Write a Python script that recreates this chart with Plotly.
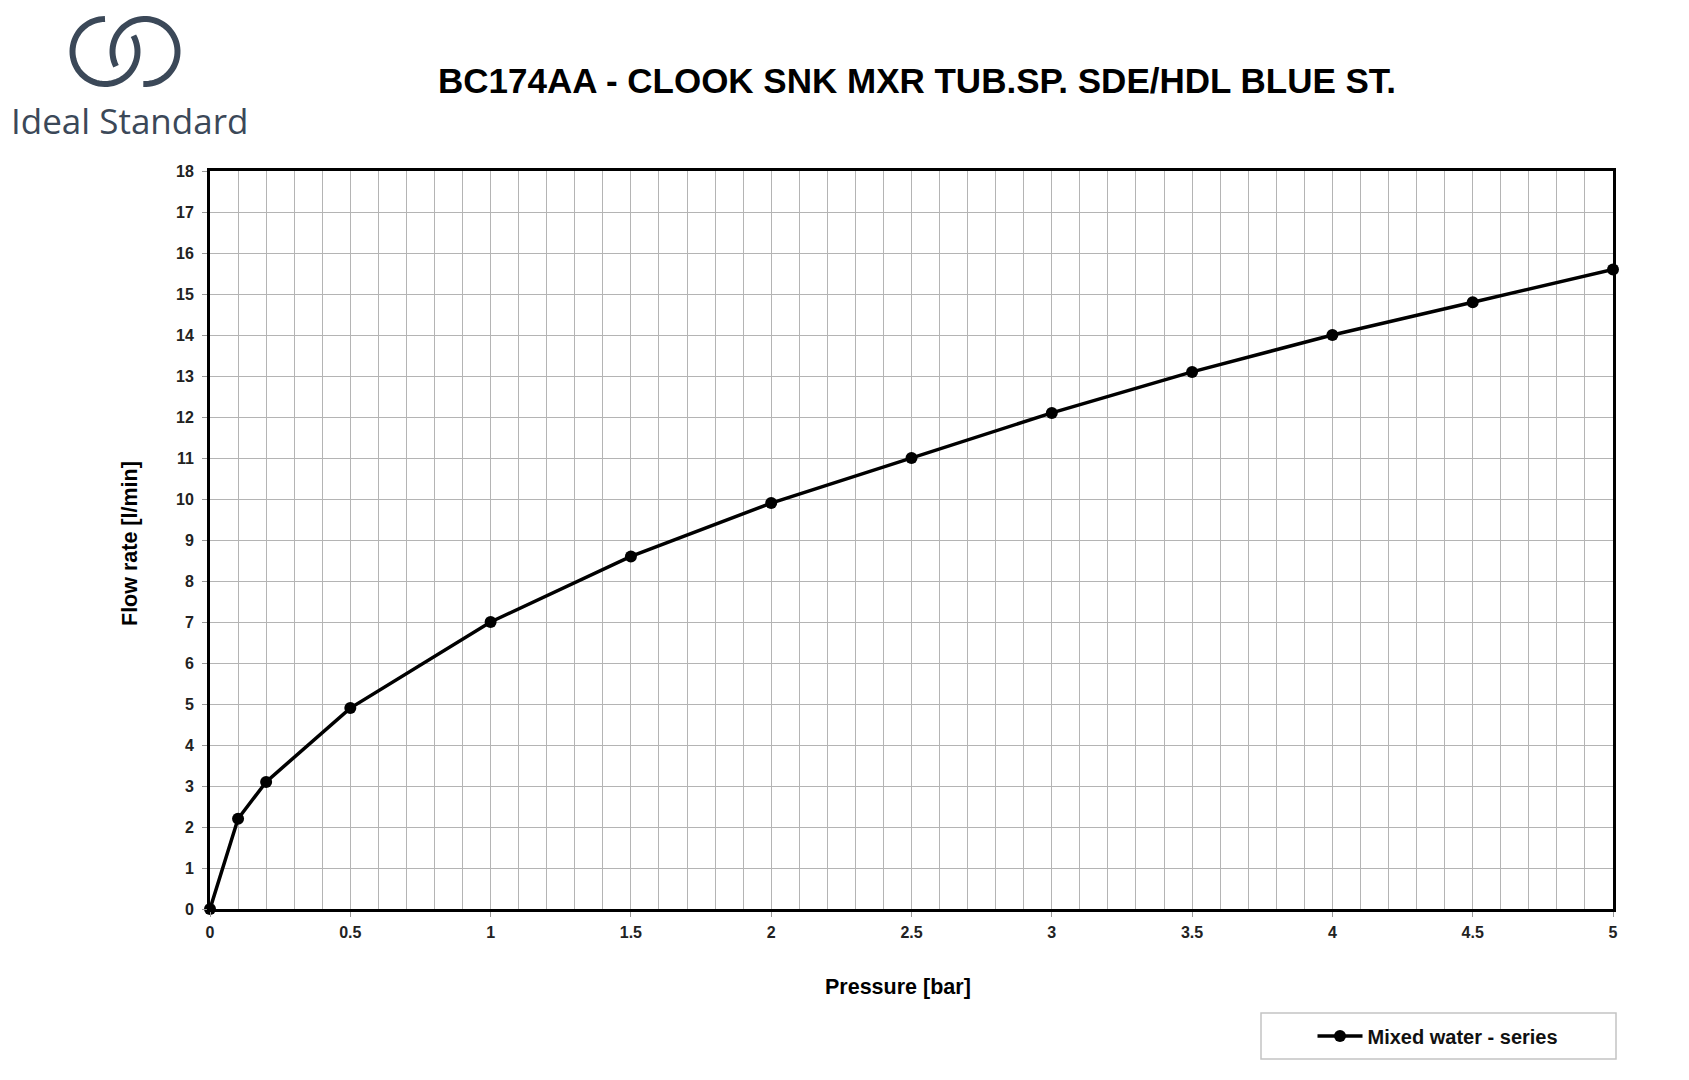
import math
import plotly.graph_objects as go

# ---- data ----
pressure_bar = [0, 0.1, 0.2, 0.5, 1.0, 1.5, 2.0, 2.5, 3.0, 3.5, 4.0, 4.5, 5.0]
flow_lmin = [0, 2.2, 3.1, 4.9, 7.0, 8.6, 9.9, 11.0, 12.1, 13.1, 14.0, 14.8, 15.6]
series_name = "Mixed water - series"
title_text = "BC174AA - CLOOK SNK MXR TUB.SP. SDE/HDL BLUE ST."
x_title = "Pressure [bar]"
y_title = "Flow rate [l/min]"
x_ticks = [0, 0.5, 1, 1.5, 2, 2.5, 3, 3.5, 4, 4.5, 5]
x_ticklabels = ["0", "0.5", "1", "1.5", "2", "2.5", "3", "3.5", "4", "4.5", "5"]
y_ticks = list(range(0, 19))

# ---- layout geometry (screen pixels; page body has an 8px margin) ----
OFF = 8
W, H = 1689 - OFF, 1080 - OFF
L, R, T, B = 210 - OFF, 1613 - OFF, 171 - OFF, 909 - OFF
PW, PH = R - L, B - T


def px(x):
    return (x - OFF - L) / PW


def py(y):
    return (B - (y - OFF)) / PH


def arc_path(cx, cy, r, a0, a1, n=60):
    pts = []
    for i in range(n + 1):
        a = math.radians(a0 + (a1 - a0) * i / n)
        pts.append((cx + r * math.cos(a), cy - r * math.sin(a)))
    return "M " + " L ".join(f"{px(x):.5f},{py(y):.5f}" for x, y in pts)


logo_col = "#3b4858"
font_main = "Liberation Sans, Arial, sans-serif"

fig = go.Figure()
fig.add_trace(go.Scatter(
    x=pressure_bar, y=flow_lmin, mode="lines+markers", name=f"<b>{series_name}</b>",
    line=dict(color="black", width=3.5),
    marker=dict(color="black", size=12),
    cliponaxis=False,
))

shapes = [
    dict(type="path", xref="paper", yref="paper", path=arc_path(105, 51.5, 32.5, 90, 389),
         line=dict(color=logo_col, width=6)),
    dict(type="path", xref="paper", yref="paper", path=arc_path(145, 51.5, 32.5, -93, 207),
         line=dict(color=logo_col, width=6)),
    dict(type="rect", xref="paper", yref="paper", x0=px(1261), x1=px(1616), y0=py(1059), y1=py(1013),
         line=dict(color="#c4c4c4", width=1.5), fillcolor="rgba(0,0,0,0)"),
]

annotations = [
    dict(text="Ideal Standard", xref="paper", yref="paper", x=px(9), y=py(120), xanchor="left",
         yanchor="middle", showarrow=False, font=dict(family="Open Sans", size=35, color=logo_col)),
    dict(text=f"<b>{x_title}</b>", xref="paper", yref="paper", x=px(898), y=py(1001),
         showarrow=False, font=dict(family=font_main, size=21.5, color="black")),
    dict(text=f"<b>{y_title}</b>", xref="paper", yref="paper", x=px(116), y=py(544), textangle=-90,
         showarrow=False, font=dict(family=font_main, size=21.5, color="black")),
]

fig.update_layout(
    width=W, height=H,
    margin=dict(l=L, r=W - R, t=T, b=H - B),
    paper_bgcolor="white", plot_bgcolor="white",
    title=dict(text=f"<b>{title_text}</b>", x=(917 - OFF) / W, y=1 - (81 - OFF) / H,
               xref="container", yref="container", xanchor="center", yanchor="middle",
               font=dict(family=font_main, size=35, color="black")),
    shapes=shapes, annotations=annotations,
    showlegend=True,
    legend=dict(x=px(1438), y=py(1036), xanchor="center", yanchor="middle", bgcolor="rgba(0,0,0,0)",
                font=dict(family=font_main, size=20, color="#111111"), itemwidth=45),
)
fig.update_xaxes(
    range=[0, 5], tickvals=x_ticks, ticktext=[f"<b>{t}</b>" for t in x_ticklabels],
    showgrid=True, gridcolor="#b4b4b4", gridwidth=1,
    minor=dict(dtick=0.1, showgrid=True, gridcolor="#b4b4b4", gridwidth=1),
    showline=True, linecolor="black", linewidth=3, mirror=True,
    ticks="outside", ticklen=5, tickcolor="#999999", ticklabelstandoff=2,
    tickfont=dict(family=font_main, size=16, color="#222222"), zeroline=False,
)
fig.update_yaxes(
    range=[0, 18], tickvals=y_ticks, ticktext=[f"<b>{t}</b>" for t in y_ticks],
    showgrid=True, gridcolor="#b4b4b4", gridwidth=1,
    showline=True, linecolor="black", linewidth=3, mirror=True,
    ticks="outside", ticklen=5, tickcolor="#999999", ticklabelstandoff=5,
    tickfont=dict(family=font_main, size=16, color="#222222"), zeroline=False,
)

fig.write_html("out.html")
